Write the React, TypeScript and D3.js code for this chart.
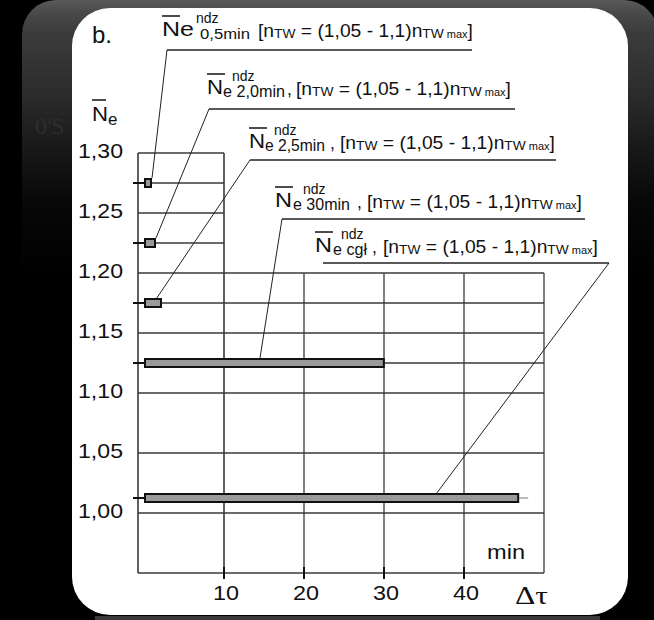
import React from "react";
import * as d3 from "d3";

// ---------- data ----------
const barNames = ["0,5min", "e 2,0min", "e 2,5min", "e 30min", "e cgł"];
const barLevels = [1.275, 1.225, 1.175, 1.125, 1.0125];
const barEnds = [1.0, 1.5, 2.25, 30.1, 46.9];
const leaderAt = [1.0, 1.5, 1.6, 14.5, 36.6];
const yTicks = [1.0, 1.05, 1.1, 1.15, 1.2, 1.25, 1.3];
const xTicks = [10, 20, 30, 40];
const fullGridY = [0.95, 1.0, 1.05, 1.1, 1.125, 1.15, 1.175, 1.2];
const narrowGridY = [1.225, 1.25, 1.275, 1.3];
const tallGridX = [-0.75, 10];
const shortGridX = [20, 30, 40, 50];

// ---------- layout of the callout labels ----------
const labelLayout = [
  { nx: 162, by: 36, n: "Ne", nLen: 32, subX: 200, subLen: 50, supX: 196, commaX: null, brX: 258, ul: [167, 472, 50], anchor: 0 },
  { nx: 207, by: 94, n: "N", nLen: 16, subX: 223, subLen: 62, supX: 232, commaX: 287, brX: 296, ul: [209, 515, 109], anchor: 0 },
  { nx: 249, by: 148, n: "N", nLen: 16, subX: 265, subLen: 60, supX: 274, commaX: 330, brX: 340, ul: [250, 556, 160], anchor: 0 },
  { nx: 275, by: 207, n: "N", nLen: 17, subX: 293, subLen: 57, supX: 303, commaX: 357, brX: 367, ul: [282, 585, 219], anchor: 0 },
  { nx: 315, by: 252, n: "N", nLen: 17, subX: 333, subLen: 34, supX: 341, commaX: 372, brX: 383, ul: [323, 609, 263], anchor: 1 },
];

const FONT = "'Liberation Sans', Arial, Helvetica, sans-serif";
const SERIF = "'Liberation Serif', 'DejaVu Serif', serif";
const INK = "#111";

const x = d3.scaleLinear().domain([0, 50]).range([144, 544]);
const y = d3.scaleLinear().domain([0.95, 1.3]).range([573, 153]);
const fmt = d3
  .formatLocale({ decimal: ",", thousands: ".", grouping: [3], currency: ["", ""] })
  .format(".2f");

function Callout({ i }: { i: number }) {
  const L = labelLayout[i];
  const [u1, u2, uy] = L.ul;
  const ax = L.anchor === 0 ? u1 : u2;
  const tx = x(leaderAt[i]);
  const ty = y(barLevels[i]) - 5;
  return (
    <g fill={INK} fontFamily={FONT}>
      <line x1={L.nx} x2={L.nx + 18} y1={L.by - 20} y2={L.by - 20} stroke={INK} strokeWidth={1.5} />
      <text x={L.nx} y={L.by} fontSize={20} textLength={L.nLen} lengthAdjust="spacingAndGlyphs">
        {L.n}
      </text>
      <text x={L.supX} y={L.by - 13} fontSize={14}>
        ndz
      </text>
      <text x={L.subX} y={L.by + 3} fontSize={i === 0 ? 15 : 16.5} textLength={L.subLen} lengthAdjust="spacingAndGlyphs">
        {barNames[i]}
      </text>
      {L.commaX !== null && (
        <text x={L.commaX} y={L.by + 1} fontSize={17.5}>
          ,
        </text>
      )}
      <text x={L.brX} y={L.by + 1} fontSize={17.5} textLength={215} lengthAdjust="spacingAndGlyphs">
        [n
        <tspan fontSize={12.5} dy={1}>TW</tspan>
        <tspan dy={-1}> = (1,05 - 1,1)n</tspan>
        <tspan fontSize={12.5} dy={1}>TW</tspan>
        <tspan fontSize={10}> max</tspan>
        <tspan dy={-1}>]</tspan>
      </text>
      <line x1={u1} x2={u2} y1={uy} y2={uy} stroke="#222" strokeWidth={1.3} />
      <line x1={ax} y1={uy} x2={tx} y2={ty} stroke="#222" strokeWidth={1} />
    </g>
  );
}

export default function App() {
  const x0 = x(-0.75);
  return (
    <svg
      width={654}
      height={620}
      style={{ position: "absolute", left: 0, top: 0, display: "block" }}
    >
      <defs>
        <linearGradient id="bgGrad" gradientUnits="userSpaceOnUse" x1={0} y1={0} x2={0} y2={620}>
          <stop offset={0} stopColor="#5a5a5a" />
          <stop offset={0.02} stopColor="#4a4a4a" />
          <stop offset={0.05} stopColor="#3c3c3c" />
          <stop offset={0.16} stopColor="#2a2a2a" />
          <stop offset={0.24} stopColor="#181818" />
          <stop offset={0.33} stopColor="#070707" />
          <stop offset={0.45} stopColor="#000" />
        </linearGradient>
      </defs>
      <rect x={0} y={0} width={654} height={620} fill="#000" />
      <rect x={22} y={0} width={636} height={680} rx={34} fill="url(#bgGrad)" />
      <text x={35} y={134} fontSize={24} fontFamily={SERIF} fill="#2e2e2e">
        0'S
      </text>
      <rect x={95} y={616} width={505} height={6} fill="#3a3a3a" />
      <rect x={72} y={8} width={556} height={607} rx={38} fill="#fff" />

      {/* grid */}
      <g stroke="#3a3a3a" strokeWidth={1.3}>
        {fullGridY.map((v) => (
          <line key={"fy" + v} x1={x0} x2={x(50)} y1={y(v)} y2={y(v)} />
        ))}
        {narrowGridY.map((v) => (
          <line key={"ny" + v} x1={x0} x2={x(10)} y1={y(v)} y2={y(v)} />
        ))}
        {tallGridX.map((v) => (
          <line key={"tx" + v} x1={x(v)} x2={x(v)} y1={y(1.3)} y2={y(0.95)} strokeWidth={1.6} />
        ))}
        {shortGridX.map((v) => (
          <line key={"sx" + v} x1={x(v)} x2={x(v)} y1={y(1.2)} y2={y(0.95)} />
        ))}
      </g>

      {/* x ticks */}
      <g stroke={INK} strokeWidth={2}>
        {xTicks.map((t) => (
          <line key={"xt" + t} x1={x(t)} x2={x(t)} y1={y(0.95) - 6} y2={y(0.95) + 6} />
        ))}
      </g>

      {/* y ticks at bar levels */}
      <g stroke={INK} strokeWidth={2}>
        {barLevels.map((v, i) => (
          <line key={"yt" + i} x1={x(0) - 11} x2={x(0)} y1={y(v)} y2={y(v)} />
        ))}
      </g>

      {/* bars */}
      <g>
        {barLevels.map((v, i) => (
          <rect
            key={"b" + i}
            x={x(0) + 1}
            y={y(v) - 4}
            width={x(barEnds[i]) - x(0) - 2}
            height={8}
            fill="#9a9a9a"
            stroke={INK}
            strokeWidth={2}
          />
        ))}
        <line
          x1={x(barEnds[4])}
          x2={x(barEnds[4]) + 9}
          y1={y(barLevels[4])}
          y2={y(barLevels[4])}
          stroke="#777"
          strokeWidth={1}
        />
      </g>

      {/* callouts */}
      {labelLayout.map((_, i) => (
        <Callout key={"c" + i} i={i} />
      ))}

      {/* axis labels */}
      <g fill={INK} fontFamily={FONT}>
        {yTicks.map((t) => (
          <text
            key={"yl" + t}
            x={123}
            y={y(t) + 5}
            fontSize={21}
            textAnchor="end"
            textLength={45}
            lengthAdjust="spacingAndGlyphs"
          >
            {fmt(t)}
          </text>
        ))}
        {xTicks.map((t) => (
          <text
            key={"xl" + t}
            x={x(t) + 2}
            y={600}
            fontSize={21}
            textAnchor="middle"
            textLength={26}
            lengthAdjust="spacingAndGlyphs"
          >
            {t}
          </text>
        ))}
        <text x={487} y={559} fontSize={21} textLength={38} lengthAdjust="spacingAndGlyphs">
          min
        </text>
        <text x={92} y={43} fontSize={24}>
          b.
        </text>
        <line x1={92} x2={106} y1={100} y2={100} stroke={INK} strokeWidth={1.5} />
        <text x={92} y={121} fontSize={20} textLength={16} lengthAdjust="spacingAndGlyphs">
          N
        </text>
        <text x={108} y={125} fontSize={17}>
          e
        </text>
      </g>
      <text x={515} y={604} fontSize={25} fontFamily={SERIF} fill={INK} textLength={33} lengthAdjust="spacingAndGlyphs">
        Δτ
      </text>
    </svg>
  );
}
